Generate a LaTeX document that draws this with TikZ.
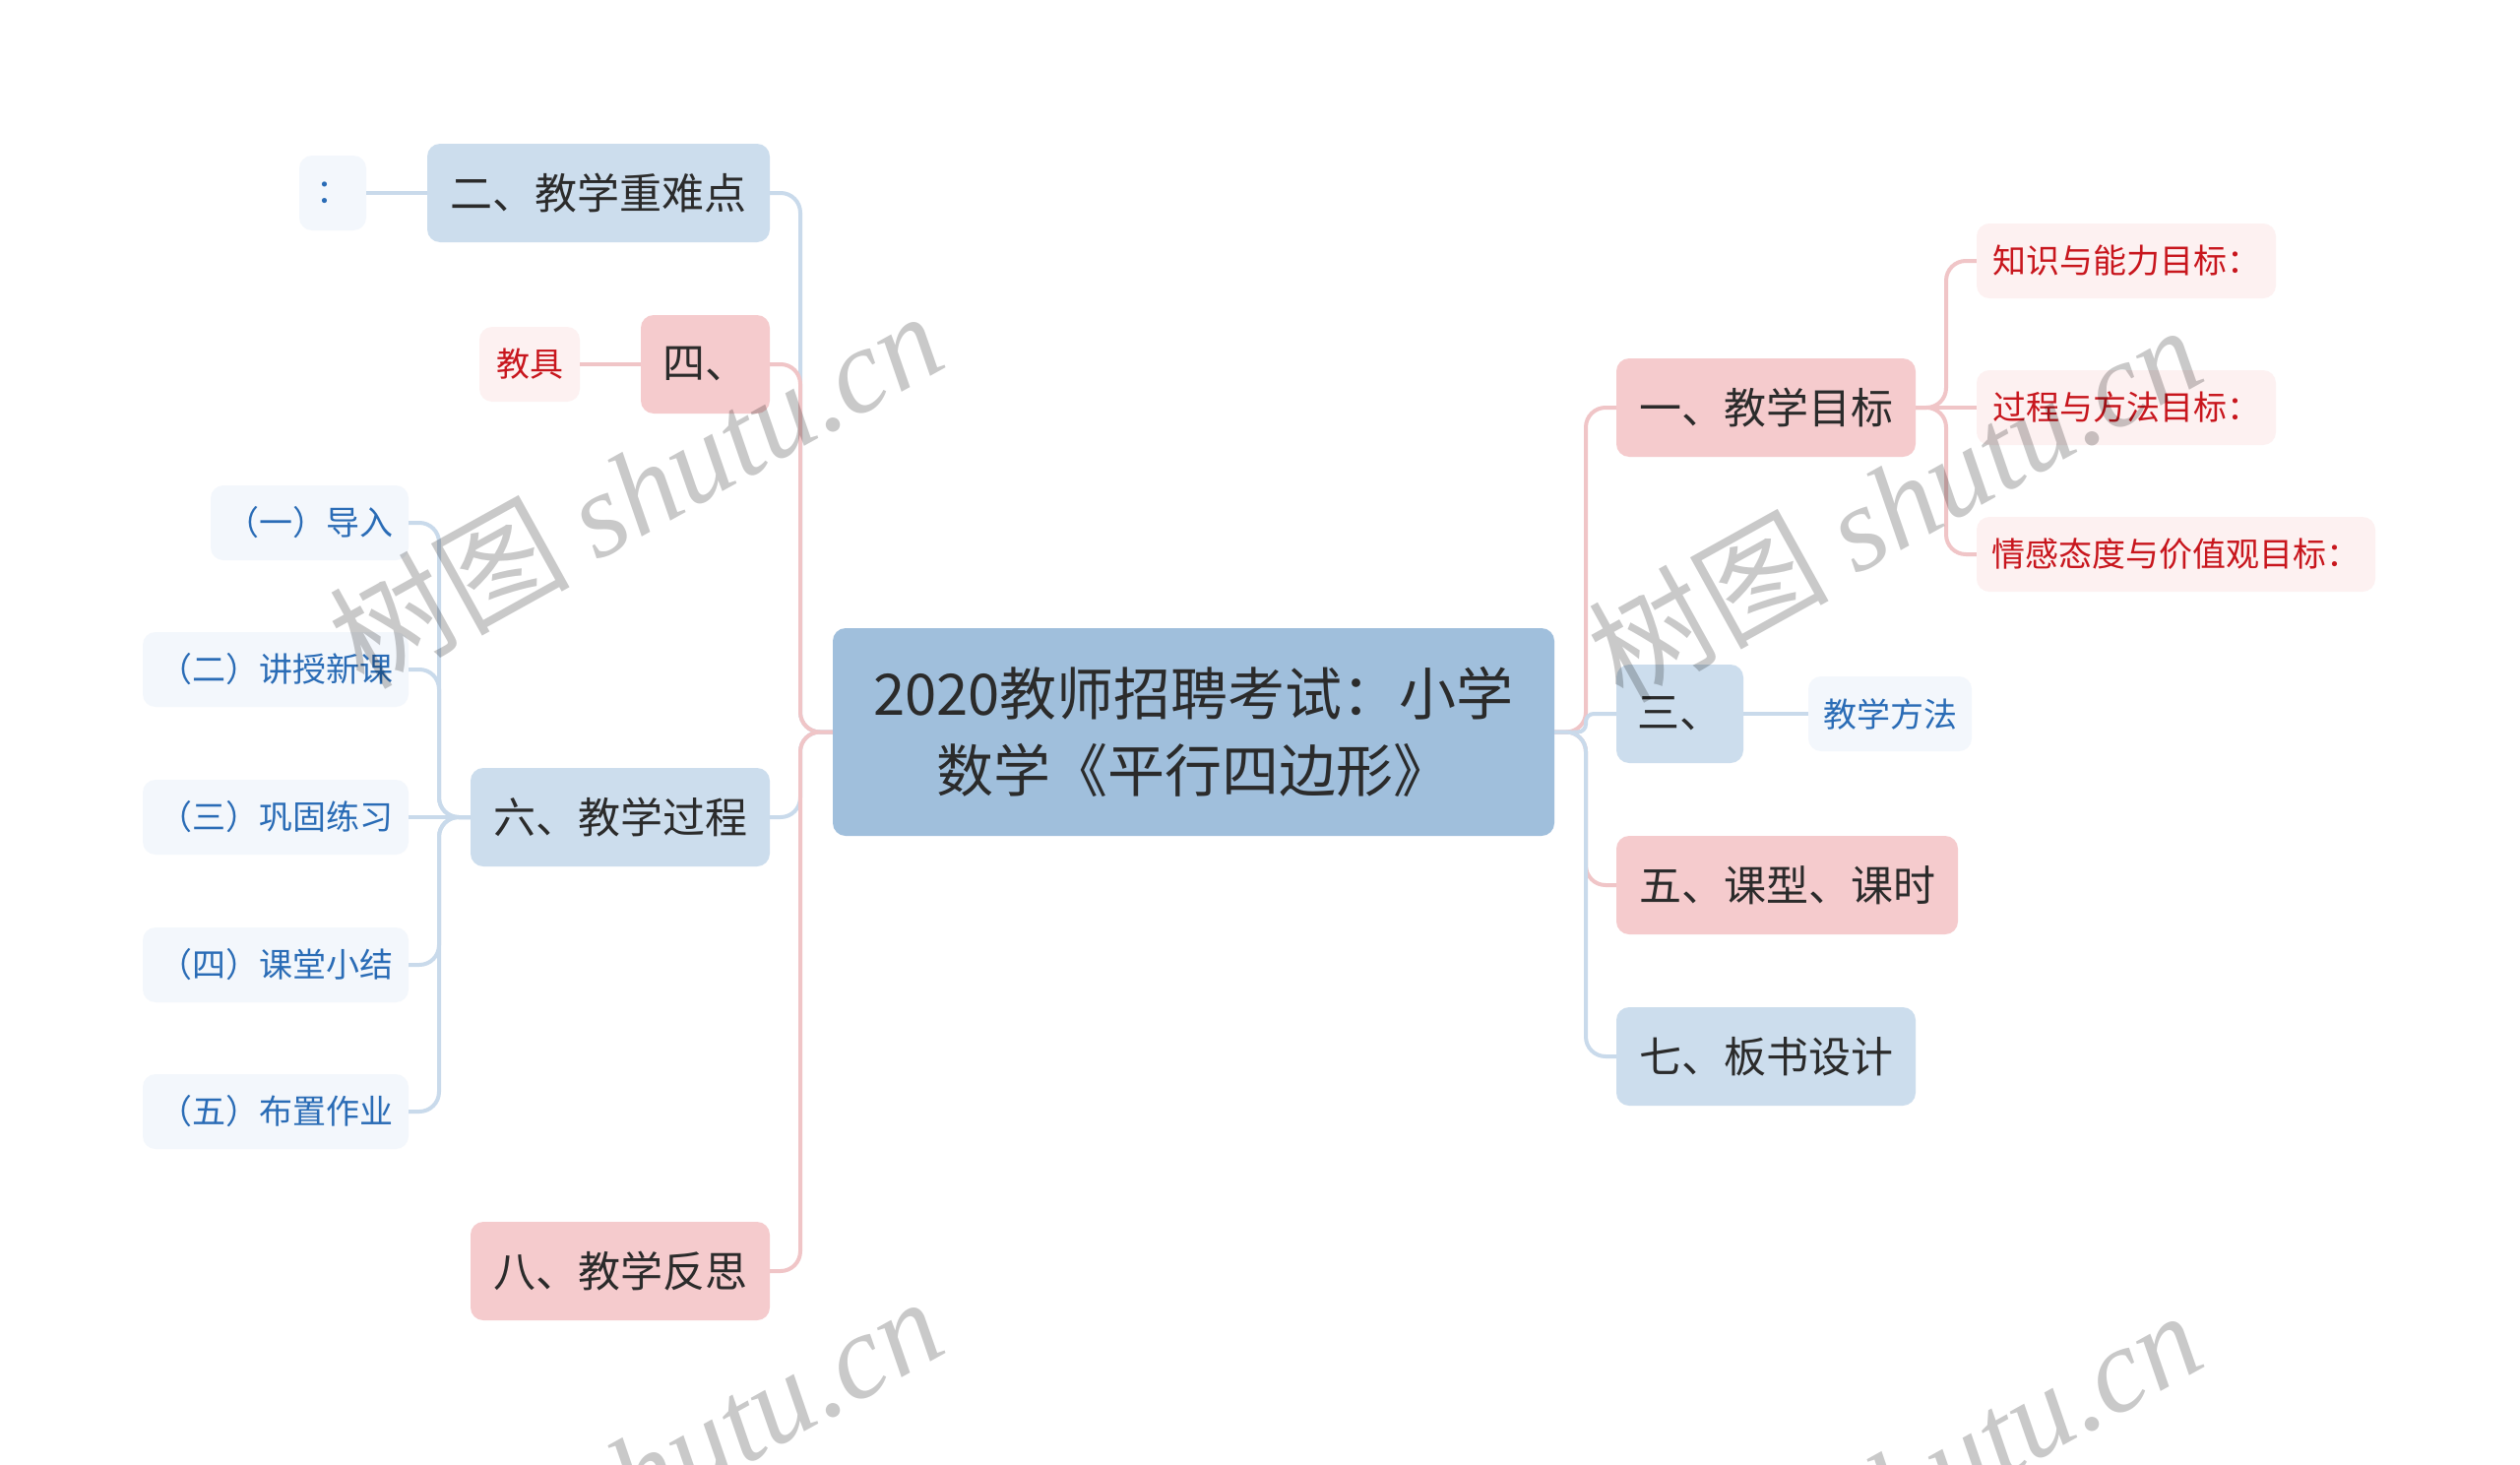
\documentclass[tikz,border=0pt]{standalone}
\usepackage{fontspec}
\setmainfont{Noto Sans CJK SC}
\newfontfamily\wmfont{Liberation Serif}
\definecolor{bluefill}{HTML}{CCDDED}
\definecolor{pinkfill}{HTML}{F5CBCD}
\definecolor{rootfill}{HTML}{A0BFDC}
\definecolor{leafblue}{HTML}{F3F7FC}
\definecolor{leafpink}{HTML}{FDF1F1}
\definecolor{txtblue}{HTML}{2A6CB6}
\definecolor{txtred}{HTML}{C8161D}
\definecolor{lineblue}{HTML}{C9DAEB}
\definecolor{linepink}{HTML}{F0C5C7}
\definecolor{maintext}{HTML}{2B2B2B}
\begin{document}
\begin{tikzpicture}[x=1pt,y=-1pt,
  base/.style={rounded corners=13pt, inner sep=0pt, align=center, anchor=center},
  mainb/.style={base, fill=bluefill, text=maintext, font=\fontsize{43}{52}\selectfont, minimum height=100pt},
  mainp/.style={base, fill=pinkfill, text=maintext, font=\fontsize{43}{52}\selectfont, minimum height=100pt},
  leafb/.style={base, fill=leafblue, text=txtblue, font=\fontsize{34}{40}\selectfont, minimum height=76pt},
  leafp/.style={base, fill=leafpink, text=txtred, font=\fontsize{34}{40}\selectfont, minimum height=76pt},
  conb/.style={draw=lineblue, line width=4pt, rounded corners=20pt},
  conp/.style={draw=linepink, line width=4pt, rounded corners=20pt},
  wm/.style={rotate=29, text=black, opacity=0.21, font=\fontsize{122}{122}\selectfont}
]
\useasboundingbox (0,0) rectangle (2560,1488);
\clip (0,0) rectangle (2560,1488);
\fill[white] (0,0) rectangle (2560,1488);

% nodes
\node[base, fill=rootfill, text=maintext, font=\fontsize{58}{78}\selectfont, minimum width=733pt, minimum height=211pt] (root) at (1212.5,743.5) {2020教师招聘考试：小学\\数学《平行四边形》};

\node[mainb, minimum width=348pt] (n2) at (608,196) {二、教学重难点};
\node[leafb, minimum width=68pt] (c2) at (338,196) {：};
\node[mainp, minimum width=131pt] (n4) at (716.5,370) {四、};
\node[leafp, minimum width=102pt] (c4) at (538,370) {教具};
\node[mainb, minimum width=304pt] (n6) at (630,830) {六、教学过程};
\node[mainp, minimum width=304pt] (n8) at (630,1291) {八、教学反思};

\node[leafb, minimum width=201pt] (k1) at (314.5,531) {（一）导入};
\node[leafb, minimum width=270pt] (k2) at (280,680) {（二）讲授新课};
\node[leafb, minimum width=270pt] (k3) at (280,830) {（三）巩固练习};
\node[leafb, minimum width=270pt] (k4) at (280,980) {（四）课堂小结};
\node[leafb, minimum width=270pt] (k5) at (280,1129) {（五）布置作业};

\node[mainp, minimum width=304pt] (n1) at (1794,414) {一、教学目标};
\node[mainb, minimum width=129pt] (n3) at (1706.5,725) {三、};
\node[mainp, minimum width=347pt] (n5) at (1815.5,899) {五、课型、课时};
\node[mainb, minimum width=304pt] (n7) at (1794,1073) {七、板书设计};

\node[leafp, minimum width=304pt] (g1) at (2160,265) {知识与能力目标：};
\node[leafp, minimum width=304pt] (g2) at (2160,414) {过程与方法目标：};
\node[leafp, minimum width=405pt] (g3) at (2210.5,563) {情感态度与价值观目标：};
\node[leafb, minimum width=166pt] (m3) at (1920,725) {教学方法};

% connectors left
\draw[conb] (root.west) -- (813,743.5) -- (813,196) -- (n2.east);
\draw[conp] (root.west) -- (813,743.5) -- (813,370) -- (n4.east);
\draw[conb] (root.west) -- (813,743.5) -- (813,830) -- (n6.east);
\draw[conp] (root.west) -- (813,743.5) -- (813,1291) -- (n8.east);
\draw[conb] (n2.west) -- (c2.east);
\draw[conp] (n4.west) -- (c4.east);
\draw[conb] (n6.west) -- (446,830) -- (446,531) -- (k1.east);
\draw[conb] (n6.west) -- (446,830) -- (446,680) -- (k2.east);
\draw[conb] (n6.west) -- (k3.east);
\draw[conb] (n6.west) -- (446,830) -- (446,980) -- (k4.east);
\draw[conb] (n6.west) -- (446,830) -- (446,1129) -- (k5.east);

% connectors right
\draw[conp] (root.east) -- (1611,743.5) -- (1611,414) -- (n1.west);
\draw[conb, rounded corners=8pt] (root.east) -- (1611,743.5) -- (1611,725) -- (n3.west);
\draw[conp] (root.east) -- (1611,743.5) -- (1611,899) -- (n5.west);
\draw[conb] (root.east) -- (1611,743.5) -- (1611,1073) -- (n7.west);
\draw[conp] (n1.east) -- (1977,414) -- (1977,265) -- (g1.west);
\draw[conp] (n1.east) -- (g2.west);
\draw[conp] (n1.east) -- (1977,414) -- (1977,563) -- (g3.west);
\draw[conb] (n3.east) -- (m3.west);

% watermarks
\node[wm] (w1) at (645,496) {树图 {\wmfont\itshape shutu.cn}};
\node[wm] (w2) at (1924,510) {树图 {\wmfont\itshape shutu.cn}};
\node[wm] (w3) at (645,1497) {树图 {\wmfont\itshape shutu.cn}};
\node[wm] (w4) at (1924,1511) {树图 {\wmfont\itshape shutu.cn}};
\end{tikzpicture}
\end{document}
